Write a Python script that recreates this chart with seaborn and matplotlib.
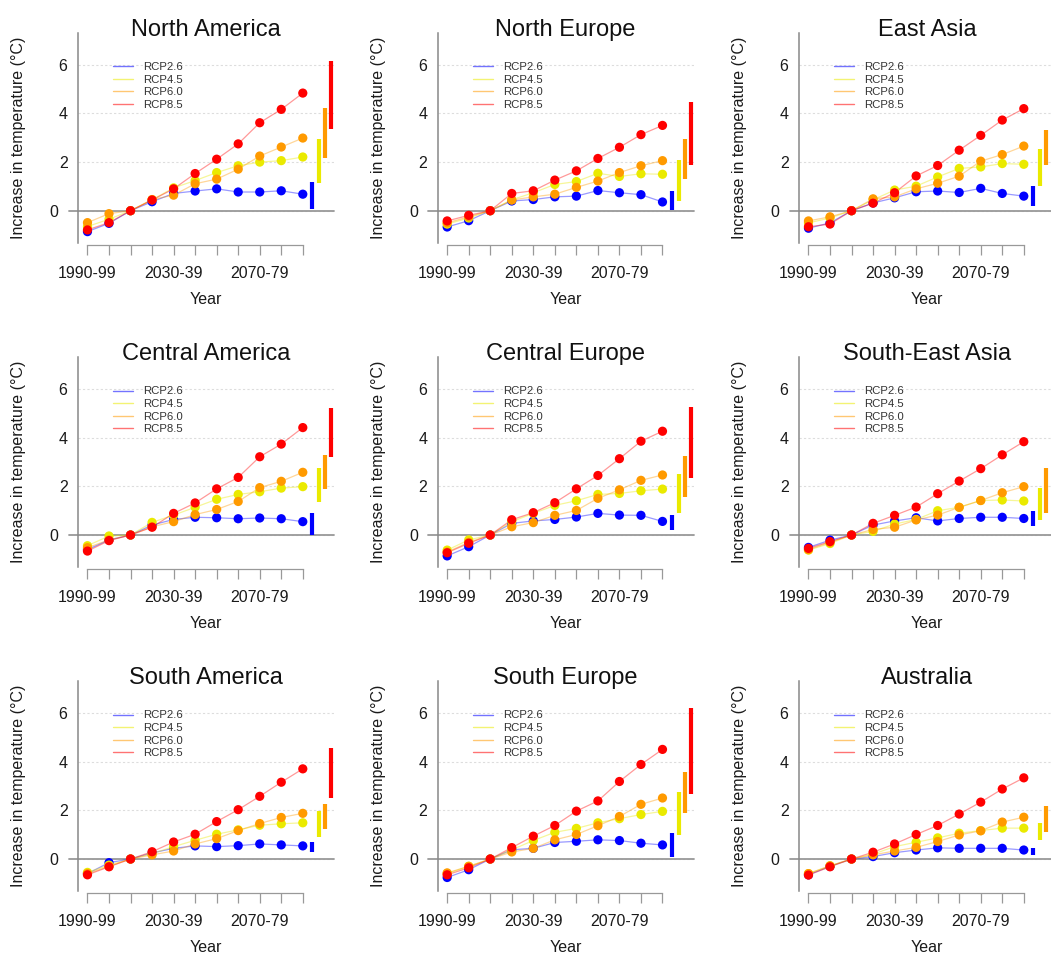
import numpy as np
import pandas as pd
import seaborn as sns
import matplotlib.pyplot as plt
from matplotlib.lines import Line2D
from matplotlib.transforms import ScaledTranslation

decades = ["1990-99", "2000-09", "2010-19", "2020-29", "2030-39", "2040-49",
           "2050-59", "2060-69", "2070-79", "2080-89", "2090-99"]
scenarios = ["RCP2.6", "RCP4.5", "RCP6.0", "RCP8.5"]
colors = ["#0000FF", "#EAEA00", "#FF9A00", "#FF0000"]
regions = ["North America", "North Europe", "East Asia",
           "Central America", "Central Europe", "South-East Asia",
           "South America", "South Europe", "Australia"]

# mean warming per decade, one list per scenario (RCP2.6, RCP4.5, RCP6.0, RCP8.5)
north_america = [
    [-0.86, -0.52, 0, 0.37, 0.71, 0.81, 0.90, 0.77, 0.77, 0.82, 0.68],
    [-0.65, -0.35, 0, 0.45, 0.94, 1.24, 1.57, 1.85, 2.00, 2.06, 2.21],
    [-0.49, -0.12, 0, 0.46, 0.64, 1.11, 1.30, 1.71, 2.25, 2.62, 2.99],
    [-0.79, -0.49, 0, 0.44, 0.90, 1.53, 2.12, 2.75, 3.62, 4.17, 4.84],
]
north_europe = [
    [-0.67, -0.41, 0, 0.40, 0.46, 0.57, 0.60, 0.83, 0.74, 0.66, 0.36],
    [-0.55, -0.30, 0, 0.45, 0.74, 1.08, 1.20, 1.54, 1.41, 1.52, 1.50],
    [-0.50, -0.25, 0, 0.44, 0.57, 0.68, 0.96, 1.22, 1.57, 1.85, 2.06],
    [-0.42, -0.19, 0, 0.71, 0.82, 1.26, 1.64, 2.15, 2.61, 3.13, 3.51],
]
east_asia = [
    [-0.72, -0.50, 0, 0.32, 0.53, 0.78, 0.81, 0.75, 0.92, 0.71, 0.60],
    [-0.50, -0.30, 0, 0.45, 0.85, 1.01, 1.39, 1.74, 1.80, 1.94, 1.91],
    [-0.42, -0.25, 0, 0.49, 0.57, 0.90, 1.13, 1.42, 2.04, 2.31, 2.66],
    [-0.66, -0.55, 0, 0.31, 0.74, 1.43, 1.86, 2.49, 3.10, 3.73, 4.20],
]
central_america = [
    [-0.60, -0.20, 0, 0.41, 0.64, 0.73, 0.71, 0.67, 0.70, 0.67, 0.55],
    [-0.44, -0.04, 0, 0.52, 0.82, 1.14, 1.47, 1.67, 1.78, 1.93, 1.99],
    [-0.52, -0.20, 0, 0.34, 0.55, 0.84, 1.05, 1.38, 1.95, 2.21, 2.58],
    [-0.66, -0.23, 0, 0.32, 0.89, 1.32, 1.90, 2.37, 3.22, 3.74, 4.42],
]
central_europe = [
    [-0.86, -0.48, 0, 0.48, 0.58, 0.64, 0.74, 0.89, 0.82, 0.81, 0.56],
    [-0.62, -0.20, 0, 0.55, 0.89, 1.22, 1.41, 1.67, 1.71, 1.82, 1.89],
    [-0.70, -0.30, 0, 0.34, 0.51, 0.81, 1.01, 1.51, 1.86, 2.25, 2.47],
    [-0.73, -0.34, 0, 0.63, 0.92, 1.33, 1.90, 2.45, 3.14, 3.86, 4.27],
]
south_east_asia = [
    [-0.51, -0.21, 0, 0.41, 0.58, 0.71, 0.58, 0.68, 0.73, 0.73, 0.68],
    [-0.62, -0.35, 0, 0.15, 0.45, 0.64, 1.00, 1.14, 1.42, 1.44, 1.40],
    [-0.60, -0.30, 0, 0.23, 0.32, 0.62, 0.82, 1.14, 1.42, 1.74, 1.99],
    [-0.55, -0.27, 0, 0.48, 0.81, 1.15, 1.70, 2.22, 2.73, 3.30, 3.84],
]
south_america = [
    [-0.60, -0.15, 0, 0.25, 0.44, 0.54, 0.51, 0.55, 0.62, 0.58, 0.54],
    [-0.55, -0.25, 0, 0.22, 0.51, 0.77, 1.02, 1.20, 1.39, 1.45, 1.49],
    [-0.60, -0.30, 0, 0.17, 0.33, 0.62, 0.84, 1.17, 1.46, 1.71, 1.88],
    [-0.65, -0.32, 0, 0.30, 0.70, 1.02, 1.54, 2.03, 2.58, 3.16, 3.71],
]
south_europe = [
    [-0.76, -0.44, 0, 0.38, 0.44, 0.68, 0.73, 0.79, 0.76, 0.65, 0.58],
    [-0.60, -0.30, 0, 0.38, 0.76, 1.10, 1.26, 1.49, 1.66, 1.83, 1.96],
    [-0.57, -0.30, 0, 0.29, 0.44, 0.79, 1.01, 1.37, 1.75, 2.25, 2.51],
    [-0.65, -0.36, 0, 0.47, 0.94, 1.38, 1.97, 2.39, 3.19, 3.89, 4.51],
]
australia = [
    [-0.65, -0.30, 0, 0.10, 0.26, 0.37, 0.46, 0.44, 0.44, 0.44, 0.37],
    [-0.60, -0.28, 0, 0.20, 0.51, 0.69, 0.87, 1.06, 1.17, 1.27, 1.27],
    [-0.60, -0.28, 0, 0.17, 0.33, 0.48, 0.72, 0.99, 1.16, 1.52, 1.72],
    [-0.66, -0.32, 0, 0.28, 0.62, 1.01, 1.38, 1.85, 2.34, 2.88, 3.34],
]

# end-of-century ranges (low, high) per scenario
range_low = [
    [0.08, 1.12, 2.15, 3.38],
    [0.02, 0.40, 1.30, 1.87],
    [0.20, 1.03, 1.89, 2.62],
    [0.00, 1.37, 1.89, 3.22],
    [0.20, 0.92, 1.58, 2.35],
    [0.38, 0.62, 0.89, 2.40],
    [0.30, 0.92, 1.24, 2.51],
    [0.10, 0.99, 1.89, 2.68],
    [0.17, 0.79, 1.13, 2.58],
]
range_high = [
    [1.18, 2.94, 4.22, 6.15],
    [0.82, 2.08, 2.97, 4.47],
    [1.03, 2.53, 3.33, 5.45],
    [0.92, 2.75, 3.29, 5.23],
    [0.82, 2.51, 3.25, 5.27],
    [0.99, 1.92, 2.77, 5.00],
    [0.72, 1.96, 2.26, 4.58],
    [1.09, 2.74, 3.57, 6.21],
    [0.44, 1.50, 2.17, 3.96],
]

series = [north_america, north_europe, east_asia, central_america, central_europe,
          south_east_asia, south_america, south_europe, australia]

rows = []
for reg, vals in zip(regions, series):
    for sc, v in zip(scenarios, vals):
        for i, y in enumerate(v):
            rows.append((reg, sc, i, y))
df = pd.DataFrame(rows, columns=["region", "scenario", "idx", "value"])

sns.set_style("white")
plt.rcParams["font.family"] = ["Liberation Sans", "DejaVu Sans"]

W, H = 1051, 960
fig = plt.figure(figsize=(W / 100, H / 100), dpi=100)

col_left = [78, 437.7, 799]
row_bottom = [242.8, 567.1, 891.1]
ax_w, ax_h = 255.8, 210
palette = dict(zip(scenarios, colors))
bar_offsets = [0.45, 0.75, 1.05, 1.32]
n = len(decades)

for k, reg in enumerate(regions):
    r, c = divmod(k, 3)
    ax = fig.add_axes([col_left[c] / W, 1 - row_bottom[r] / H, ax_w / W, ax_h / H])
    sub = df[df.region == reg]

    ax.grid(axis="y", linestyle=(0, (2, 2)), color="#dddddd", lw=0.8)
    ax.axhline(0, xmin=-0.036, color="#999999", lw=1.3, clip_on=False, zorder=1)

    sns.lineplot(data=sub, x="idx", y="value", hue="scenario", palette=palette,
                 hue_order=scenarios, estimator=None, sort=False, alpha=0.4,
                 lw=0.9, legend=False, ax=ax, zorder=2)
    sns.scatterplot(data=sub, x="idx", y="value", hue="scenario", palette=palette,
                    hue_order=scenarios, s=44, linewidth=0, legend=False, ax=ax,
                    zorder=3)

    ax.vlines([n - 1 + o for o in bar_offsets], range_low[k], range_high[k],
              colors=colors, lw=3, zorder=3)

    ax.set_xlim(-0.44, 11.44)
    ax.set_ylim(-1.32, 7.32)
    ax.set_xticks(range(n))
    ax.set_xticklabels([d if i % 4 == 0 else "" for i, d in enumerate(decades)])
    ax.set_yticks([0, 2, 4, 6])
    ax.set_yticklabels(["0", "2", "4", "6"])
    ax.tick_params(axis="x", bottom=True, length=7, width=0.9, color="#999999",
                   pad=8, labelsize=11.5, labelcolor="#1a1a1a")
    ax.tick_params(axis="y", left=False, length=0, pad=7.5, labelsize=11.5,
                   labelcolor="#1a1a1a")
    zero_lab = ax.get_yticklabels()[0]
    zero_lab.set_transform(zero_lab.get_transform() +
                           ScaledTranslation(-0.09, 0, fig.dpi_scale_trans))

    for s in ["top", "right"]:
        ax.spines[s].set_visible(False)
    ax.spines["left"].set_color("#888888")
    ax.spines["left"].set_linewidth(1.1)
    ax.spines["bottom"].set_color("#999999")
    ax.spines["bottom"].set_linewidth(0.9)
    ax.spines["bottom"].set_bounds(0, n - 1)
    ax.spines["bottom"].set_position(("outward", 1.5))

    ax.set_title(reg, fontsize=17, pad=-2, color="#111111")
    ax.set_xlabel("Year", fontsize=11.5, va="center", color="#1a1a1a")
    ax.xaxis.set_label_coords(0.5, -0.27)
    ax.set_ylabel("Increase in temperature (°C)", fontsize=11.5, va="center",
                  color="#1a1a1a")
    ax.yaxis.set_label_coords(-0.232, 0.5)

    handles = [Line2D([], [], color=col, lw=1, alpha=0.55) for col in colors]
    ax.legend(handles, scenarios, loc="upper left", bbox_to_anchor=(0.138, 0.86),
              frameon=False, fontsize=8.2, handlelength=1.75, handletextpad=0.9,
              labelspacing=0.22, borderpad=0, borderaxespad=0,
              labelcolor="#333333")

fig.savefig("out.png", dpi=100)
